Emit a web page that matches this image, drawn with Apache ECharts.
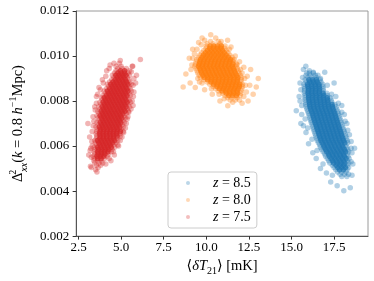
<!DOCTYPE html>
<html>
<head>
<meta charset="utf-8">
<script src="https://cdn.jsdelivr.net/npm/echarts@6/dist/echarts.min.js"></script>
<style>
html,body{margin:0;padding:0;background:#fff;}
#chart{width:374px;height:281px;}
</style>
</head>
<body>
<div id="chart"></div>
<script>
// ---------- data ----------
const seriesNames = ['z = 8.5', 'z = 8.0', 'z = 7.5'];
const xTicks = [2.5, 5.0, 7.5, 10.0, 12.5, 15.0, 17.5];
const yTicks = [0.002, 0.004, 0.006, 0.008, 0.010, 0.012];

// rows: [y, x1, x2, ...]  (dense core of each cloud)
const blueCoreRows = [
[0.00935,16.05],
[0.00925,15.90,16.28],
[0.00915,15.85,16.10,16.40],
[0.00905,15.95,16.20,16.45],
[0.00895,15.80,16.02,16.24,16.46,16.68],
[0.00885,15.85,16.07,16.29,16.51,16.73],
[0.00875,15.73,15.95,16.17,16.39,16.61,16.83],
[0.00865,15.74,15.96,16.18,16.40,16.62,16.84],
[0.00855,15.77,15.99,16.21,16.43,16.65,16.87],
[0.00845,15.76,15.98,16.20,16.42,16.64,16.86],
[0.00835,15.75,15.97,16.19,16.41,16.63,16.85,17.07],
[0.00825,15.79,16.01,16.23,16.45,16.67,16.89,17.11],
[0.00815,15.78,16.00,16.22,16.44,16.66,16.88,17.10,17.28],
[0.00805,15.80,16.02,16.24,16.46,16.68,16.90,17.12,17.34],
[0.00795,15.82,16.04,16.26,16.48,16.70,16.92,17.14,17.36],
[0.00785,15.84,16.06,16.28,16.50,16.72,16.94,17.16,17.38,17.55],
[0.00775,15.86,16.08,16.30,16.52,16.74,16.96,17.18,17.40,17.62],
[0.00765,15.90,16.12,16.34,16.56,16.78,17.00,17.22,17.44,17.66],
[0.00755,15.95,16.17,16.39,16.61,16.83,17.05,17.27,17.49,17.71],
[0.00745,16.00,16.22,16.44,16.66,16.88,17.10,17.32,17.54,17.76],
[0.00735,16.04,16.26,16.48,16.70,16.92,17.14,17.36,17.58,17.80],
[0.00725,16.08,16.30,16.52,16.74,16.96,17.18,17.40,17.62,17.84],
[0.00715,16.12,16.34,16.56,16.78,17.00,17.22,17.44,17.66,17.88],
[0.00705,16.16,16.38,16.60,16.82,17.04,17.26,17.48,17.70,17.92],
[0.00695,16.21,16.43,16.65,16.87,17.09,17.31,17.53,17.75,17.97],
[0.00685,16.25,16.47,16.69,16.91,17.13,17.35,17.57,17.79,18.01],
[0.00675,16.29,16.51,16.73,16.95,17.17,17.39,17.61,17.83,18.05],
[0.00665,16.34,16.56,16.78,17.00,17.22,17.44,17.66,17.88,18.10],
[0.00655,16.38,16.60,16.82,17.04,17.26,17.48,17.70,17.92,18.14],
[0.00645,16.42,16.64,16.86,17.08,17.30,17.52,17.74,17.96,18.18],
[0.00635,16.47,16.69,16.91,17.13,17.35,17.57,17.79,18.01,18.23],
[0.00625,16.51,16.73,16.95,17.17,17.39,17.61,17.83,18.05,18.27],
[0.00615,16.58,16.80,17.02,17.24,17.46,17.68,17.90,18.12,18.30],
[0.00605,16.65,16.87,17.09,17.31,17.53,17.75,17.97,18.19],
[0.00595,16.70,16.92,17.14,17.36,17.58,17.80,18.02,18.24],
[0.00585,16.78,17.00,17.22,17.44,17.66,17.88,18.10,18.30],
[0.00575,16.85,17.07,17.29,17.51,17.73,17.95,18.17,18.35],
[0.00565,16.95,17.17,17.39,17.61,17.83,18.05,18.27],
[0.00555,17.00,17.22,17.44,17.66,17.88,18.10,18.32],
[0.00545,17.10,17.32,17.54,17.76,17.98,18.20,18.38],
[0.00535,17.18,17.40,17.62,17.84,18.06,18.28],
[0.00525,17.25,17.47,17.69,17.91,18.13,18.35],
[0.00515,17.40,17.62,17.84,18.06,18.28],
[0.00505,17.50,17.72,17.94,18.16,18.35],
[0.00495,17.60,17.82,18.04,18.26],
[0.00485,17.70,17.95,18.20],
[0.00475,17.85,18.10,18.35],
[0.00465,17.95,18.25]
];
const blueFringe = [
[15.28,0.00757],[15.45,0.00820],[15.50,0.00880],[15.55,0.00700],[15.60,0.00780],
[15.65,0.00905],[15.84,0.00954],[16.28,0.00928],[16.95,0.00928],[16.70,0.00900],
[17.10,0.00870],[17.35,0.00830],[17.75,0.00790],[17.95,0.00750],[18.15,0.00710],
[18.30,0.00670],[18.50,0.00620],[18.55,0.00570],[18.60,0.00520],[18.55,0.00470],
[18.45,0.00415],[18.07,0.00402],[17.68,0.00424],[17.40,0.00470],[16.85,0.00520],
[16.50,0.00580],[16.20,0.00630],[15.95,0.00680],[15.80,0.00720],[18.70,0.00590],
[15.55,0.00850],[15.50,0.00800],[15.60,0.00740],[15.70,0.00690],[15.85,0.00660],
[16.00,0.00610],[16.25,0.00570],[16.45,0.00545],[16.70,0.00500],[17.05,0.00480],
[17.30,0.00440],[17.50,0.00880],[17.60,0.00820],[17.95,0.00780],[18.10,0.00740],
[18.25,0.00700],[18.40,0.00650],[18.50,0.00590],[18.50,0.00530],[16.05,0.00925],
[16.55,0.00915],[15.70,0.00940]
];

const orangeCoreRows = [
[0.01065,10.25,10.70],
[0.01055,10.05,10.40,10.80],
[0.01045,10.00,10.22,10.44,10.66,10.88,11.10],
[0.01035,9.98,10.20,10.42,10.64,10.86,11.08],
[0.01025,9.85,10.07,10.29,10.51,10.73,10.95,11.17],
[0.01015,9.73,9.95,10.17,10.39,10.61,10.83,11.05,11.27],
[0.01005,9.62,9.84,10.06,10.28,10.50,10.72,10.94,11.16,11.38],
[0.00995,9.53,9.75,9.97,10.19,10.41,10.63,10.85,11.07,11.29,11.51],
[0.00985,9.44,9.66,9.88,10.10,10.32,10.54,10.76,10.98,11.20,11.42,11.64],
[0.00975,9.40,9.62,9.84,10.06,10.28,10.50,10.72,10.94,11.16,11.38,11.60],
[0.00965,9.36,9.58,9.80,10.02,10.24,10.46,10.68,10.90,11.12,11.34,11.56,11.78],
[0.00955,9.32,9.54,9.76,9.98,10.20,10.42,10.64,10.86,11.08,11.30,11.52,11.74],
[0.00945,9.40,9.62,9.84,10.06,10.28,10.50,10.72,10.94,11.16,11.38,11.60,11.82],
[0.00935,9.45,9.67,9.89,10.11,10.33,10.55,10.77,10.99,11.21,11.43,11.65,11.87],
[0.00925,9.50,9.72,9.94,10.16,10.38,10.60,10.82,11.04,11.26,11.48,11.70,11.92],
[0.00915,9.58,9.80,10.02,10.24,10.46,10.68,10.90,11.12,11.34,11.56,11.78,12.00],
[0.00905,9.65,9.87,10.09,10.31,10.53,10.75,10.97,11.19,11.41,11.63,11.85,12.07],
[0.00895,9.85,10.07,10.29,10.51,10.73,10.95,11.17,11.39,11.61,11.83,12.05],
[0.00885,10.05,10.27,10.49,10.71,10.93,11.15,11.37,11.59,11.81,12.03],
[0.00875,10.20,10.42,10.64,10.86,11.08,11.30,11.52,11.74,11.96,12.12],
[0.00865,10.40,10.62,10.84,11.06,11.28,11.50,11.72,11.94,12.12],
[0.00855,10.55,10.77,10.99,11.21,11.43,11.65,11.87,12.09],
[0.00845,10.70,10.92,11.14,11.36,11.58,11.80,12.05],
[0.00835,10.95,11.17,11.39,11.61,11.83,12.02],
[0.00825,11.10,11.32,11.54,11.76,11.98],
[0.00815,11.25,11.50,11.80],
[0.00805,11.40,11.70],
[0.00795,11.55]
];
const orangeFringe = [
[8.64,0.00862],[8.80,0.00920],[9.00,0.00990],[9.10,0.00940],[9.05,0.00880],
[9.20,0.01030],[9.35,0.00860],[9.55,0.01060],[9.75,0.01080],[10.26,0.01095],
[10.87,0.01064],[11.25,0.01070],[11.45,0.01040],[11.70,0.01000],[11.95,0.00975],
[12.20,0.00950],[12.40,0.00910],[12.55,0.00870],[12.93,0.00862],[12.75,0.00830],
[12.45,0.00800],[12.10,0.00790],[11.26,0.00779],[10.80,0.00800],[10.35,0.00830],
[9.90,0.00850],[9.60,0.00885],[12.60,0.00940],[13.05,0.00900],[10.55,0.01080],
[9.15,0.00960],[9.20,0.00990],[9.30,0.01010],[9.45,0.01030],[9.70,0.01050],
[9.90,0.01070],[11.35,0.01030],[11.55,0.00980],[11.80,0.00960],[12.00,0.00940],
[12.25,0.00900],[12.30,0.00870],[12.35,0.00840],[12.20,0.00820],[11.95,0.00805],
[11.05,0.00810],[10.75,0.00830],[10.30,0.00855],[9.75,0.00880],[9.50,0.00900],
[12.10,0.00925]
];

const redCoreRows = [
[0.00495,3.50],
[0.00505,3.25,3.65],
[0.00515,3.55,3.80],
[0.00525,3.45,3.70,3.92],
[0.00535,3.40,3.62,3.85],
[0.00545,3.42,3.62,3.82,4.02],
[0.00555,3.38,3.58,3.78,3.98,4.18],
[0.00565,3.45,3.65,3.85,4.05,4.25],
[0.00575,3.42,3.62,3.82,4.02,4.22,4.42],
[0.00585,3.47,3.67,3.87,4.07,4.27,4.47],
[0.00595,3.42,3.62,3.82,4.02,4.22,4.42,4.62],
[0.00605,3.56,3.76,3.96,4.16,4.36,4.56],
[0.00615,3.49,3.69,3.89,4.09,4.29,4.49,4.69],
[0.00625,3.45,3.62,3.82,4.02,4.22,4.42,4.62,4.80],
[0.00635,3.55,3.75,3.95,4.15,4.35,4.55,4.75],
[0.00645,3.57,3.77,3.97,4.17,4.37,4.57,4.77,4.95],
[0.00655,3.53,3.73,3.93,4.13,4.33,4.53,4.73,4.93],
[0.00665,3.56,3.76,3.96,4.16,4.36,4.56,4.76,4.96,5.12],
[0.00675,3.59,3.79,3.99,4.19,4.39,4.59,4.79,4.99],
[0.00685,3.52,3.72,3.92,4.12,4.32,4.52,4.72,4.92,5.12],
[0.00695,3.65,3.85,4.05,4.25,4.45,4.65,4.85,5.05],
[0.00705,3.58,3.78,3.98,4.18,4.38,4.58,4.78,4.98,5.18],
[0.00715,3.71,3.91,4.11,4.31,4.51,4.71,4.91,5.11],
[0.00725,3.64,3.84,4.04,4.24,4.44,4.64,4.84,5.04,5.24],
[0.00735,3.58,3.77,3.97,4.17,4.37,4.57,4.77,4.97,5.17],
[0.00745,3.70,3.90,4.10,4.30,4.50,4.70,4.90,5.10,5.30],
[0.00755,3.63,3.83,4.03,4.23,4.43,4.63,4.83,5.03,5.23,5.43],
[0.00765,3.76,3.96,4.16,4.36,4.56,4.76,4.96,5.16,5.36],
[0.00775,3.69,3.89,4.09,4.29,4.49,4.69,4.89,5.09,5.29,5.49],
[0.00785,3.82,4.02,4.22,4.42,4.62,4.82,5.02,5.22,5.42],
[0.00795,3.75,3.95,4.15,4.35,4.55,4.75,4.95,5.15,5.35,5.55],
[0.00805,3.88,4.08,4.28,4.48,4.68,4.88,5.08,5.28,5.48],
[0.00815,3.85,4.01,4.21,4.41,4.61,4.81,5.01,5.21,5.41],
[0.00825,3.94,4.14,4.34,4.54,4.74,4.94,5.14,5.34,5.54],
[0.00835,4.07,4.27,4.47,4.67,4.87,5.07,5.27,5.47],
[0.00845,4.00,4.20,4.40,4.60,4.80,5.00,5.20,5.40,5.60],
[0.00855,4.13,4.33,4.53,4.73,4.93,5.13,5.33,5.53],
[0.00865,4.26,4.46,4.66,4.86,5.06,5.26,5.46],
[0.00875,4.19,4.39,4.59,4.79,4.99,5.19,5.39,5.59],
[0.00885,4.32,4.52,4.72,4.92,5.12,5.32,5.52],
[0.00895,4.45,4.65,4.85,5.05,5.25,5.45],
[0.00905,4.57,4.77,4.97,5.17,5.37],
[0.00915,4.49,4.69,4.89,5.09,5.29,5.49],
[0.00925,4.61,4.81,5.01,5.21,5.41],
[0.00935,4.70,4.95,5.20,5.50],
[0.00945,4.80,5.05,5.30],
[0.00955,4.70,5.00,5.65],
[0.00968,4.58,4.90]
];
const redFringe = [
[3.05,0.00700],[3.15,0.00640],[3.22,0.00590],[3.30,0.00665],[3.35,0.00730],
[3.45,0.00775],[3.55,0.00820],[3.70,0.00860],[3.90,0.00895],[4.15,0.00935],
[4.35,0.00960],[5.70,0.00780],[5.75,0.00840],[5.85,0.00880],[5.90,0.00915],
[5.68,0.00954],[6.13,0.00985],[5.35,0.00720],[5.25,0.00680],[5.05,0.00640],
[4.85,0.00600],[4.60,0.00560],[4.40,0.00535],[3.20,0.00510],[3.58,0.00485],
[3.10,0.00560],[5.45,0.00750],[4.95,0.00980],
[3.30,0.00600],[3.28,0.00620],[3.36,0.00690],[3.40,0.00710],[3.48,0.00760],
[3.55,0.00790],[3.62,0.00830],[3.78,0.00850],[3.95,0.00880],[4.10,0.00910],
[4.30,0.00945],[3.25,0.00550],[3.18,0.00580],[4.80,0.00605],[4.95,0.00625],
[5.15,0.00660],[5.30,0.00700],[5.40,0.00730],[5.58,0.00765],[5.65,0.00800],
[5.72,0.00820],[5.70,0.00870],[5.75,0.00900],[5.60,0.00930],[4.55,0.00575],
[4.30,0.00545],[4.10,0.00520]
];

// ---------- build ----------
const CORE_OPACITY = 0.75, EDGE_OPACITY = 0.35;
function buildData(rows, fringe) {
  const out = [];
  rows.forEach(r => {
    const n = r.length - 1;
    for (let i = 1; i <= n; i++) {
      const edge = (n <= 3) || i === 1 || i === n;
      out.push({ value: [r[i], r[0]], itemStyle: { opacity: edge ? EDGE_OPACITY : CORE_OPACITY } });
    }
  });
  fringe.forEach(p => out.push({ value: p, itemStyle: { opacity: EDGE_OPACITY } }));
  return out;
}
const colors = ['#1f77b4', '#ff7f0e', '#d62728'];
const cores = [blueCoreRows, orangeCoreRows, redCoreRows];
const fringes = [blueFringe, orangeFringe, redFringe];

const FONT = "'Liberation Serif', 'DejaVu Serif', serif";

const series = seriesNames.map((name, k) => ({
  name: name,
  type: 'scatter',
  symbol: 'circle',
  symbolSize: 5.5,
  itemStyle: { color: colors[k], opacity: 0.35 },
  data: buildData(cores[k], fringes[k]),
  silent: true,
  animation: false
}));

const chart = echarts.init(document.getElementById('chart'), null, { renderer: 'canvas' });
chart.setOption({
  animation: false,
  grid: {
    left: 61, right: 6, top: 11, bottom: 42,
    show: true, borderColor: '#9a9a9a', borderWidth: 1, backgroundColor: 'transparent'
  },
  xAxis: {
    type: 'value',
    min: 2.36, max: 19.49,
    axisLine: { show: true, onZero: false, lineStyle: { color: '#555', width: 1 } },
    axisTick: { show: true, length: 3.5, lineStyle: { color: '#333' }, customValues: xTicks },
    axisLabel: {
      color: '#000', fontFamily: FONT, fontSize: 13, margin: 5,
      customValues: xTicks,
      formatter: v => v.toFixed(1)
    },
    splitLine: { show: false },
    name: '{n|⟨}{i|δT}{sub|21}{n|⟩ [mK]}',
    nameLocation: 'middle',
    nameGap: 20,
    nameTextStyle: {
      rich: {
        n: { fontFamily: FONT, fontSize: 14.5, color: '#000', lineHeight: 19 },
        i: { fontFamily: FONT, fontSize: 14.5, fontStyle: 'italic', color: '#000', lineHeight: 19 },
        sub: { fontFamily: FONT, fontSize: 10, color: '#000', lineHeight: 11, verticalAlign: 'bottom' }
      }
    }
  },
  yAxis: {
    type: 'value',
    min: 0.002, max: 0.012, interval: 0.002,
    axisLine: { show: true, onZero: false, lineStyle: { color: '#555', width: 1 } },
    axisTick: { show: true, length: 3.5, lineStyle: { color: '#333' } },
    axisLabel: {
      color: '#000', fontFamily: FONT, fontSize: 13, margin: 7,
      customValues: yTicks,
      formatter: v => v.toFixed(3)
    },
    splitLine: { show: false },
    name: '{n|Δ}{sup|2}{sub|xx}{n|(}{i|k}{n| = 0.8 }{i|h}{sup2|−1}{n|Mpc)}',
    nameLocation: 'middle',
    nameRotate: 90,
    nameGap: 40,
    nameTextStyle: {
      rich: {
        n: { fontFamily: FONT, fontSize: 14.5, color: '#000', lineHeight: 21 },
        i: { fontFamily: FONT, fontSize: 14.5, fontStyle: 'italic', color: '#000', lineHeight: 21 },
        sup: { fontFamily: FONT, fontSize: 10, color: '#000', lineHeight: 12, verticalAlign: 'top', width: 1 },
        sup2: { fontFamily: FONT, fontSize: 10, color: '#000', lineHeight: 12, verticalAlign: 'top' },
        sub: { fontFamily: FONT, fontSize: 10, fontStyle: 'italic', color: '#000', lineHeight: 12, verticalAlign: 'bottom' }
      }
    }
  },
  legend: {
    orient: 'vertical',
    left: 168, top: 172,
    padding: [4, 6, 4, 18],
    itemGap: 3,
    itemWidth: 4, itemHeight: 4,
    icon: 'circle',
    itemStyle: { opacity: 0.3 },
    backgroundColor: 'rgba(255,255,255,0.8)',
    borderColor: '#cccccc', borderWidth: 1, borderRadius: 3,
    data: seriesNames,
    formatter: name => '{s|}{i|z}{n|' + name.slice(1) + '}',
    textStyle: {
      rich: {
        s: { width: 18 },
        n: { fontFamily: FONT, fontSize: 14, color: '#000', lineHeight: 16.5 },
        i: { fontFamily: FONT, fontSize: 14, fontStyle: 'italic', color: '#000', lineHeight: 16.5 }
      }
    }
  },
  series: series
});
</script>
</body>
</html>
